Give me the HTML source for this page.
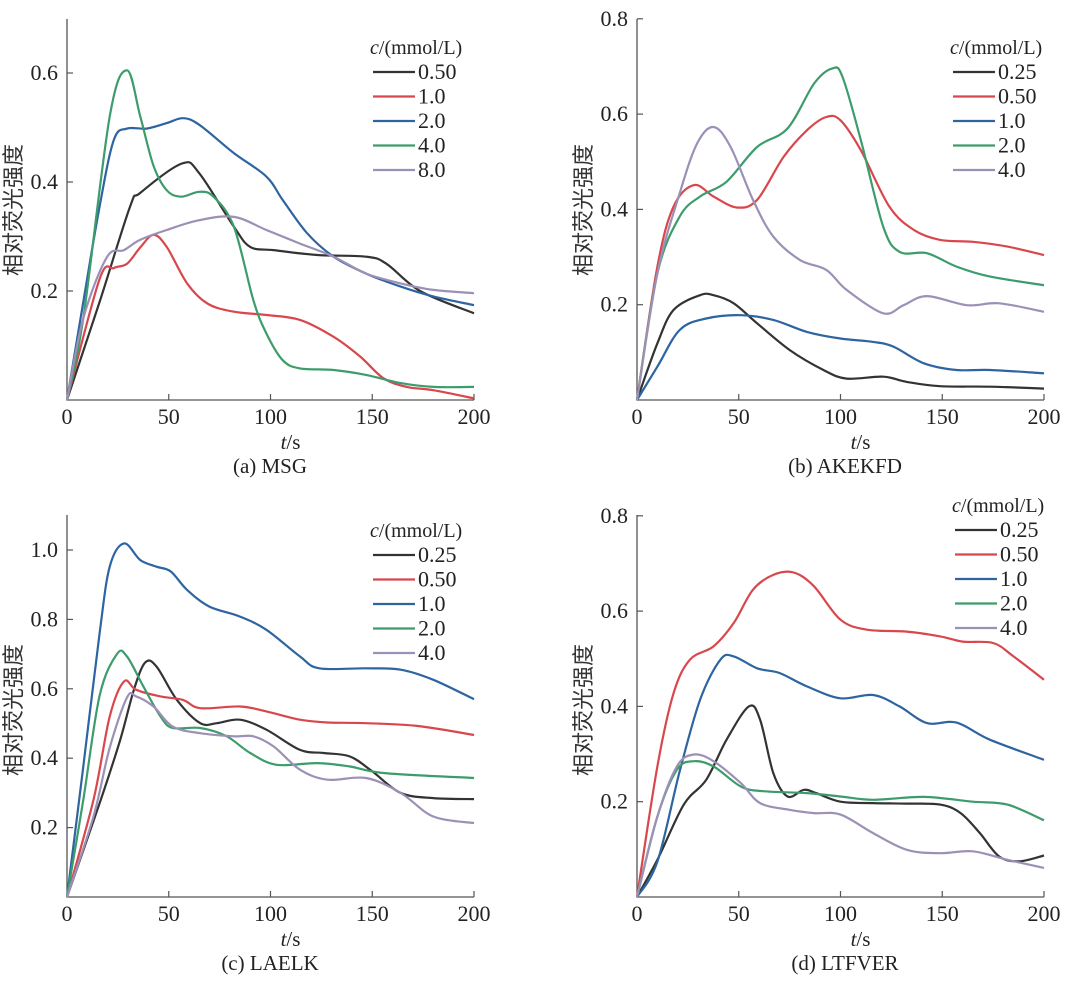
<!DOCTYPE html>
<html><head><meta charset="utf-8">
<style>
html,body{margin:0;padding:0;background:#fff;}
svg{display:block;font-family:"Liberation Serif","Noto Serif CJK SC",serif;}
</style></head>
<body>
<svg id="fig" width="1080" height="983" viewBox="0 0 1080 983" xmlns="http://www.w3.org/2000/svg"></svg>
<script>
// ---- shared ----
const xTicks = [0, 50, 100, 150, 200];
const seriesColors = ["#333333", "#d8474c", "#2e64a0", "#3d9c6b", "#9d90b6"];

// ---- panel (a) MSG ----
const aLabels = ["0.50", "1.0", "2.0", "4.0", "8.0"];
const aYTicks = [0.2, 0.4, 0.6];
const aT0 = [0,16,31,36,56.5,65,82,90,101.5,123,147,157,173.5,200];
const aV0 = [0,0.18,0.355,0.38,0.434,0.416,0.318,0.281,0.275,0.266,0.263,0.25,0.2,0.159];
const aT1 = [0,16,23,29.5,36,42.5,49,59,69,82,98,114.5,131,144,155.5,167,180,200];
const aV1 = [0,0.222,0.242,0.25,0.28,0.303,0.281,0.214,0.177,0.162,0.156,0.147,0.116,0.08,0.04,0.024,0.018,0.003];
const aT2 = [0,8,16,23,29.5,39,49,57,65,82,98,106,118,131,147,164,180,200];
const aV2 = [0,0.18,0.355,0.477,0.498,0.498,0.508,0.517,0.505,0.453,0.41,0.367,0.306,0.263,0.232,0.208,0.19,0.174];
const aT3 = [0,8,21,29.5,36,42.5,49,56,65,72,82,91.6,98,106,114.5,131,147,164,180,200];
const aV3 = [0,0.15,0.52,0.605,0.52,0.43,0.385,0.373,0.382,0.373,0.318,0.183,0.122,0.073,0.058,0.055,0.046,0.031,0.024,0.024];
const aT4 = [0,8,19.6,28,36,49,65,82,98,114.5,131,147,164,180,200];
const aV4 = [0,0.15,0.262,0.275,0.294,0.312,0.33,0.336,0.312,0.287,0.263,0.232,0.214,0.202,0.196];

// ---- panel (b) AKEKFD ----
const bLabels = ["0.25", "0.50", "1.0", "2.0", "4.0"];
const bYTicks = [0.2, 0.4, 0.6, 0.8];
const bT0 = [0,10,18,31,37.6,47.5,59,75,91.6,103,121,132.6,149,173.5,200];
const bV0 = [0,0.119,0.189,0.22,0.22,0.203,0.161,0.105,0.063,0.045,0.049,0.038,0.029,0.028,0.024];
const bT1 = [0,10,18,28,37.6,49,59,72,83.5,93,100,110,124,136,149,165,182,200];
const bV1 = [0,0.28,0.406,0.451,0.427,0.404,0.42,0.51,0.566,0.594,0.587,0.524,0.406,0.357,0.336,0.332,0.322,0.304];
const bT2 = [0,10,21,34,51,67,83.5,100,116,126,141,157,173.5,200];
const bV2 = [0,0.07,0.147,0.171,0.178,0.168,0.143,0.129,0.122,0.112,0.077,0.063,0.063,0.056];
const bT3 = [0,10,21,31,44,59,74,87,96,101,110,121,129,142.5,157,173.5,200];
const bV3 = [0,0.266,0.385,0.427,0.458,0.531,0.57,0.664,0.696,0.678,0.545,0.364,0.311,0.308,0.28,0.259,0.241];
const bT4 = [0,10,21,29.5,37.6,46,57,67,80,93,103,121,131,142.5,162,178,200];
const bV4 = [0,0.266,0.434,0.538,0.573,0.531,0.42,0.343,0.294,0.273,0.231,0.182,0.199,0.218,0.199,0.203,0.185];

// ---- panel (c) LAELK ----
const cLabels = ["0.25", "0.50", "1.0", "2.0", "4.0"];
const cYTicks = [0.2, 0.4, 0.6, 0.8, 1.0];
const cT0 = [0,16,26,33,38.5,44,54,65.5,73.6,85,98,114.5,126,139,150,164,180,200];
const cV0 = [0,0.27,0.45,0.6,0.676,0.664,0.568,0.501,0.501,0.511,0.482,0.424,0.415,0.405,0.362,0.3,0.285,0.282];
const cT1 = [0,13,21,28,34,46,57,65.5,85,98,114.5,128,147,172,200];
const cV1 = [0,0.28,0.52,0.621,0.597,0.578,0.568,0.544,0.549,0.535,0.511,0.503,0.501,0.493,0.467];
const cT2 = [0,8,16,21,28,36,44,51,59,70,85,98,114.5,124,147,164,180,200];
const cV2 = [0,0.376,0.76,0.952,1.019,0.971,0.952,0.938,0.885,0.837,0.808,0.77,0.693,0.659,0.659,0.655,0.626,0.57];
const cT3 = [0,8,16,24.5,29.5,37.6,46,52,65.5,78.5,90,103,123,139,156,200];
const cV3 = [0,0.28,0.58,0.7,0.693,0.606,0.52,0.487,0.487,0.463,0.415,0.381,0.386,0.376,0.357,0.343];
const cT4 = [0,13,21,29.5,34,42.5,52,65.5,82,91.6,101.5,114.5,128,147,164,180,200];
const cV4 = [0,0.232,0.43,0.575,0.578,0.549,0.491,0.472,0.463,0.463,0.434,0.367,0.338,0.343,0.3,0.232,0.213];

// ---- panel (d) LTFVER ----
const dLabels = ["0.25", "0.50", "1.0", "2.0", "4.0"];
const dYTicks = [0.2, 0.4, 0.6, 0.8];
const dT0 = [0,10,23,34,44,55,60.5,67,74,82,88,100,116,132.6,149,159,168.5,178,188,200];
const dV0 = [0,0.078,0.194,0.246,0.33,0.4,0.372,0.26,0.211,0.225,0.218,0.2,0.197,0.196,0.194,0.176,0.134,0.085,0.075,0.087];
const dT1 = [0,10,18,26,37.6,47.5,57,67,77,87,100,113,132.6,149,160,175,185,200];
const dV1 = [0,0.274,0.428,0.498,0.526,0.575,0.645,0.676,0.681,0.652,0.582,0.561,0.557,0.547,0.536,0.533,0.505,0.456];
const dT2 = [0,10,21,31,41,47.5,59,70,83.5,100,116,129,142.5,157,173.5,200];
const dV2 = [0,0.074,0.264,0.414,0.498,0.505,0.48,0.47,0.442,0.417,0.424,0.4,0.365,0.366,0.33,0.288];
const dT3 = [0,10,19.6,28,37.6,51,62,83.5,100,116,141,165,182,200];
const dV3 = [0,0.169,0.267,0.285,0.274,0.232,0.222,0.218,0.211,0.204,0.21,0.2,0.194,0.161];
const dT4 = [0,10,19.6,28,37.6,51,60.5,75,87,100,116,132.6,149,165,182,200];
const dV4 = [0,0.169,0.274,0.299,0.285,0.239,0.197,0.183,0.176,0.173,0.134,0.099,0.092,0.096,0.078,0.061];

const NS = "http://www.w3.org/2000/svg";
const svg = document.getElementById('fig');
function mk(tag, attrs, parent){
  const e = document.createElementNS(NS, tag);
  for (const k in attrs) e.setAttribute(k, attrs[k]);
  (parent||svg).appendChild(e);
  return e;
}
function smoothPath(pts){
  let d = "M" + pts[0][0].toFixed(1) + "," + pts[0][1].toFixed(1);
  for (let i = 0; i < pts.length - 1; i++){
    const p0 = pts[Math.max(0,i-1)], p1 = pts[i], p2 = pts[i+1], p3 = pts[Math.min(pts.length-1,i+2)];
    const c1x = p1[0] + (p2[0]-p0[0])/6, c1y = p1[1] + (p2[1]-p0[1])/6;
    const c2x = p2[0] - (p3[0]-p1[0])/6, c2y = p2[1] - (p3[1]-p1[1])/6;
    d += " C" + c1x.toFixed(1)+","+c1y.toFixed(1)+" "+c2x.toFixed(1)+","+c2y.toFixed(1)+" "+p2[0].toFixed(1)+","+p2[1].toFixed(1);
  }
  return d;
}

function drawPanel(cfg){
  const g = mk('g', {});
  
  
  const xs = t => cfg.x0 + (t/200)*(cfg.x1 - cfg.x0);
  const ys = v => cfg.y0 - v*cfg.ppu;
  const ax = mk('path', {d:`M${cfg.x0},${cfg.yTop} L${cfg.x0},${cfg.y0} L${cfg.x1},${cfg.y0}`, fill:'none', stroke:'#555', 'stroke-width':1.3}, g);
  
  
  xTicks.forEach(t => {
    if (t > 0) mk('line', {x1:xs(t), x2:xs(t), y1:cfg.y0, y2:cfg.y0-6, stroke:'#555','stroke-width':1.2}, g);
    const tx = mk('text', {x:xs(t), y:cfg.y0+24, 'text-anchor':'middle', 'font-size':22, fill:'#222'}, g);
    tx.textContent = String(t);
    
    
  });
  cfg.yTicks.forEach(v => {
    mk('line', {x1:cfg.x0, x2:cfg.x0+6, y1:ys(v), y2:ys(v), stroke:'#555','stroke-width':1.2}, g);
    const tx = mk('text', {x:cfg.x0-9, y:ys(v)+7, 'text-anchor':'end', 'font-size':22, fill:'#222'}, g);
    tx.textContent = v.toFixed(1);
    
    
  });
  const xt = mk('text', {x:(cfg.x0+cfg.x1)/2+20, y:cfg.y0+49, 'text-anchor':'middle', 'font-size':21, fill:'#222'}, g);
  xt.innerHTML = '<tspan font-style="italic">t</tspan>/s';
  
  
  const yt = mk('text', {x:0, y:0, 'text-anchor':'middle', 'font-size':22, fill:'#333', 'font-family':'"Noto Sans CJK SC", sans-serif', transform:`translate(${cfg.x0-46},${cfg.yMid}) rotate(-90)`}, g);
  yt.textContent = '相对荧光强度';
  
  
  const cap = mk('text', {x:cfg.capX, y:cfg.y0+73, 'text-anchor':'middle', 'font-size':21, fill:'#222'}, g);
  cap.textContent = cfg.caption;
  
  
  cfg.series.forEach((s, i) => {
    const pts = s[0].map((t, j) => [xs(t), ys(s[1][j])]);
    const p = mk('path', {d:smoothPath(pts), fill:'none', stroke:seriesColors[i], 'stroke-width':2.2, 'stroke-linejoin':'round'}, g);
    
    
  });
  const lg = mk('g', {}, g);
  
  
  const lt = mk('text', {x:cfg.legX, y:cfg.legY, 'font-size':20, fill:'#222'}, lg);
  lt.innerHTML = '<tspan font-style="italic">c</tspan>/(mmol/L)';
  
  
  cfg.labels.forEach((lab, i) => {
    const yy = cfg.legY + 25 + i*24.5;
    mk('line', {x1:cfg.legX+3, x2:cfg.legX+45, y1:yy-7, y2:yy-7, stroke:seriesColors[i], 'stroke-width':2.2}, lg);
    const tx = mk('text', {x:cfg.legX+48, y:yy, 'font-size':22, fill:'#222'}, lg);
    tx.textContent = lab;
    
    
  });
}

drawPanel({name:'panel-a-msg', x0:67, x1:474, y0:400, yTop:19, ppu:545, yTicks:aYTicks, yMid:210, capX:270, caption:'(a) MSG',
  labels:aLabels, legX:370, legY:54,
  series:[[aT0,aV0],[aT1,aV1],[aT2,aV2],[aT3,aV3],[aT4,aV4]]});
drawPanel({name:'panel-b-akekfd', x0:637, x1:1044, y0:400, yTop:19, ppu:476.5, yTicks:bYTicks, yMid:210, capX:845, caption:'(b) AKEKFD',
  labels:bLabels, legX:950, legY:54,
  series:[[bT0,bV0],[bT1,bV1],[bT2,bV2],[bT3,bV3],[bT4,bV4]]});
drawPanel({name:'panel-c-laelk', x0:67, x1:474, y0:897, yTop:515, ppu:347, yTicks:cYTicks, yMid:710, capX:270, caption:'(c) LAELK',
  labels:cLabels, legX:370, legY:537,
  series:[[cT0,cV0],[cT1,cV1],[cT2,cV2],[cT3,cV3],[cT4,cV4]]});
drawPanel({name:'panel-d-ltfver', x0:637, x1:1044, y0:897, yTop:515, ppu:476.5, yTicks:dYTicks, yMid:710, capX:845, caption:'(d) LTFVER',
  labels:dLabels, legX:952, legY:512,
  series:[[dT0,dV0],[dT1,dV1],[dT2,dV2],[dT3,dV3],[dT4,dV4]]});
</script>
</body></html>
